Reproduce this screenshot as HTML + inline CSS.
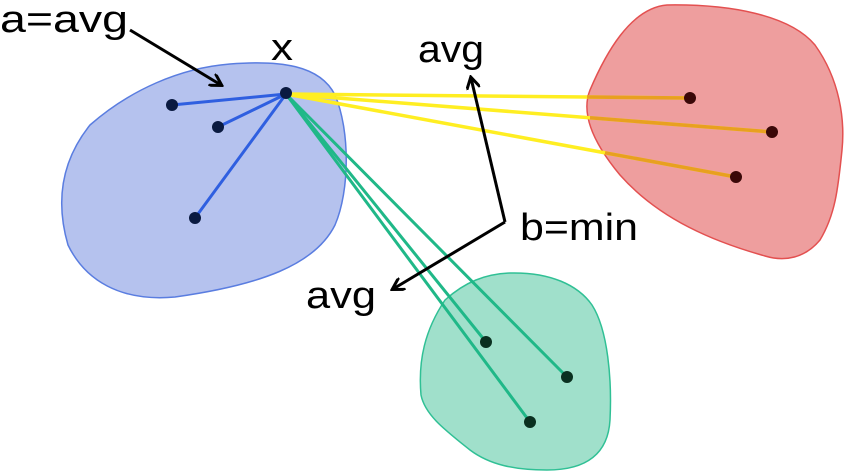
<!DOCTYPE html>
<html><head><meta charset="utf-8"><style>
html,body{margin:0;padding:0;background:#fff;}
svg{display:block;}
text{font-family:"Liberation Sans",sans-serif;font-size:38px;fill:#000;}
</style></head><body>
<svg width="850" height="475" viewBox="0 0 850 475" xmlns="http://www.w3.org/2000/svg">
<defs>
<marker id="ah" markerWidth="14" markerHeight="14" refX="11" refY="7" orient="auto" markerUnits="userSpaceOnUse">
<path d="M0,0 L12,7 L0,14" fill="none" stroke="#000" stroke-width="3"/>
</marker>
</defs>
<path d="M230,64 C280,60 320,65 335,95 C350,130 350,190 335,225 C315,265 260,285 175,297 C120,302 85,280 68,245 C55,200 62,160 90,125 C130,90 180,68 230,64 Z" fill="#b5c2ee" stroke="#5a7de0" stroke-width="1.5"/>
<path d="M667,5 C730,4 790,15 815,45 C840,80 845,120 842,150 C838,190 835,215 820,240 C805,258 785,262 765,256 C715,242 660,220 620,175 C595,145 580,115 590,90 C605,55 630,8 667,5 Z" fill="#ee9e9e" stroke="#e35050" stroke-width="1.5"/>
<path d="M510,273 C550,272 578,285 592,305 C608,330 612,380 610,420 C608,455 585,470 547,470 C515,470 490,465 470,450 C445,430 425,415 421,395 C418,360 425,330 445,300 C465,282 485,274 510,273 Z" fill="#a0e0cb" stroke="#30c095" stroke-width="1.5"/>
<g stroke="#2f5fe0" stroke-width="3">
<line x1="286" y1="94" x2="172" y2="105"/>
<line x1="286" y1="94" x2="218" y2="127"/>
<line x1="286" y1="94" x2="195" y2="218"/>
</g>
<g stroke="#ffee22" stroke-width="3.5">
<line x1="286" y1="94" x2="690" y2="98"/>
<line x1="286" y1="94" x2="772" y2="132"/>
<line x1="286" y1="94" x2="736" y2="177"/>
</g>
<g stroke="#e8a020" stroke-width="3.5">
<line x1="587" y1="97" x2="690" y2="98"/>
<line x1="590" y1="117.8" x2="772" y2="132"/>
<line x1="605" y1="152.8" x2="736" y2="177"/>
</g>
<g stroke="#20b888" stroke-width="3">
<line x1="286" y1="94" x2="486" y2="342"/>
<line x1="286" y1="94" x2="567" y2="377"/>
<line x1="286" y1="94" x2="530" y2="422"/>
</g>
<g fill="#0a1a40">
<circle cx="286" cy="93" r="6"/>
<circle cx="172" cy="105" r="6"/>
<circle cx="218" cy="127" r="6"/>
<circle cx="195" cy="218" r="6"/>
</g>
<g fill="#3a0808">
<circle cx="690" cy="98" r="6"/>
<circle cx="772" cy="132" r="6"/>
<circle cx="736" cy="177" r="6"/>
</g>
<g fill="#0a3020">
<circle cx="486" cy="342" r="6"/>
<circle cx="567" cy="377" r="6"/>
<circle cx="530" cy="422" r="6"/>
</g>
<g stroke="#000" stroke-width="3" fill="none">
<line x1="130" y1="30" x2="221" y2="85" marker-end="url(#ah)"/>
<polyline points="505,222 471,78" marker-end="url(#ah)"/>
<polyline points="505,222 393,289" marker-end="url(#ah)"/>
</g>
<text x="0" y="32" textLength="128" lengthAdjust="spacingAndGlyphs">a=avg</text>
<text x="271" y="60" textLength="22" lengthAdjust="spacingAndGlyphs">x</text>
<text x="418" y="62" textLength="66" lengthAdjust="spacingAndGlyphs">avg</text>
<text x="520" y="240" textLength="118" lengthAdjust="spacingAndGlyphs">b=min</text>
<text x="306" y="308" textLength="70" lengthAdjust="spacingAndGlyphs">avg</text>
</svg>
</body></html>
